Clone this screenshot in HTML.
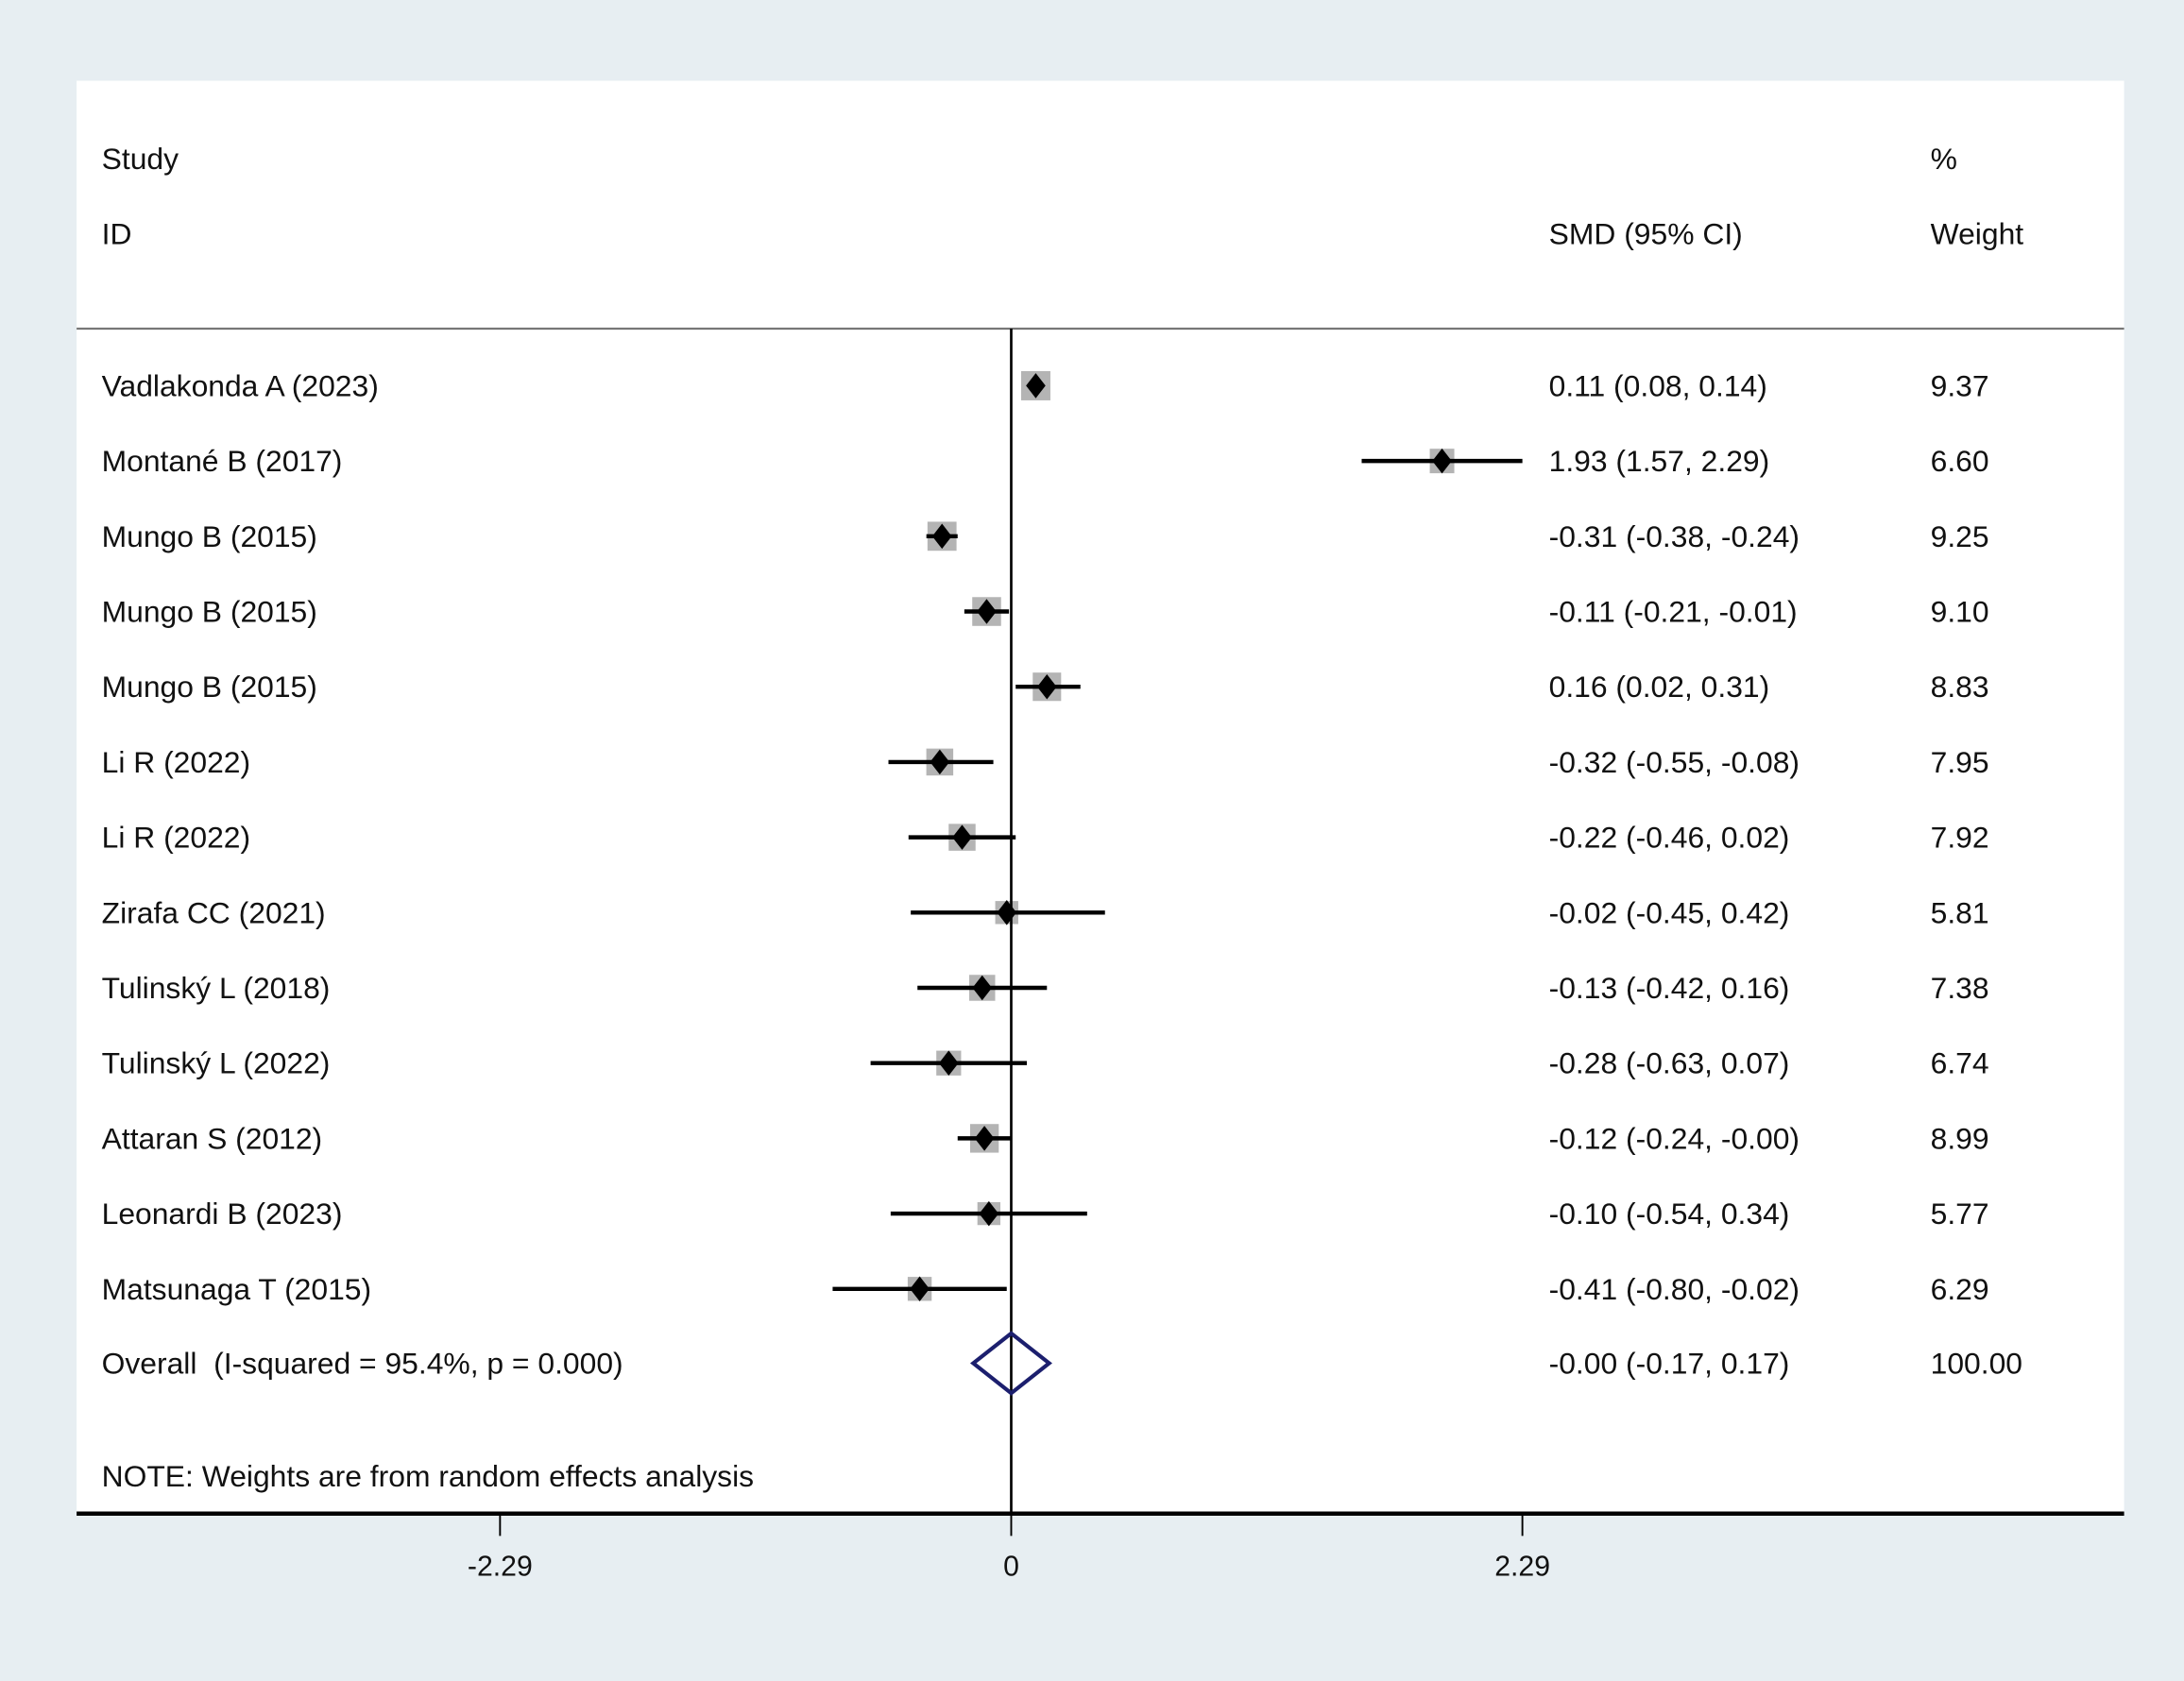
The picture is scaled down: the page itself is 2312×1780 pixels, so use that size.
<!DOCTYPE html>
<html><head><meta charset="utf-8"><style>
html,body{margin:0;padding:0;background:#e8eff3;}
svg{display:block;}
text{font-family:"Liberation Sans",Arial,sans-serif;fill:#111;}
</style></head><body>
<svg id="chart" width="2312" height="1780" viewBox="0 0 1568 1207.2" preserveAspectRatio="none" xmlns="http://www.w3.org/2000/svg">
<rect x="0" y="0" width="1568" height="1208" fill="#e7eef2"/>
<rect x="55" y="58" width="1470" height="1029" fill="#ffffff"/>
<text x="73" y="114" font-size="21.6" dominant-baseline="central">Study</text>
<text x="73" y="168" font-size="21.6" dominant-baseline="central">ID</text>
<text x="1112" y="168" font-size="21.6" dominant-baseline="central">SMD (95% CI)</text>
<text x="1386" y="114" font-size="21.6" dominant-baseline="central">%</text>
<text x="1386" y="168" font-size="21.6" dominant-baseline="central">Weight</text>
<line x1="55" y1="236" x2="1525" y2="236" stroke="#777" stroke-width="1.5"/>
<g id="marks"></g>
<text x="73" y="1060" font-size="21.6" dominant-baseline="central">NOTE: Weights are from random effects analysis</text>
</svg>
<script>
const studies = ["Vadlakonda A (2023)","Montané B (2017)","Mungo B (2015)","Mungo B (2015)","Mungo B (2015)","Li R (2022)","Li R (2022)","Zirafa CC (2021)","Tulinský L (2018)","Tulinský L (2022)","Attaran S (2012)","Leonardi B (2023)","Matsunaga T (2015)"];
const smd = [0.11,1.93,-0.31,-0.11,0.16,-0.32,-0.22,-0.02,-0.13,-0.28,-0.12,-0.10,-0.41];
const lower = [0.08,1.57,-0.38,-0.21,0.02,-0.55,-0.46,-0.45,-0.42,-0.63,-0.24,-0.54,-0.80];
const upper = [0.14,2.29,-0.24,-0.01,0.31,-0.08,0.02,0.42,0.16,0.07,-0.00,0.34,-0.02];
const ciLabels = ["0.11 (0.08, 0.14)","1.93 (1.57, 2.29)","-0.31 (-0.38, -0.24)","-0.11 (-0.21, -0.01)","0.16 (0.02, 0.31)","-0.32 (-0.55, -0.08)","-0.22 (-0.46, 0.02)","-0.02 (-0.45, 0.42)","-0.13 (-0.42, 0.16)","-0.28 (-0.63, 0.07)","-0.12 (-0.24, -0.00)","-0.10 (-0.54, 0.34)","-0.41 (-0.80, -0.02)"];
const weights = [9.37,6.60,9.25,9.10,8.83,7.95,7.92,5.81,7.38,6.74,8.99,5.77,6.29];
const overallEst = -0.00, overallLo = -0.17, overallHi = 0.17;
const overallLabel = "Overall  (I-squared = 95.4%, p = 0.000)";
const overallCI = "-0.00 (-0.17, 0.17)";
const overallWeight = "100.00";
const ticks = [-2.29, 0, 2.29];
const tickLabels = ["-2.29","0","2.29"];

const NS = "http://www.w3.org/2000/svg";
const g = document.getElementById('marks');
const xScale = v => 726 + v * (367 / 2.29);
const yRow = i => 277 + i * 54.05;
const FS = 21.6;
function mk(tag, attrs, parent){ const e=document.createElementNS(NS,tag); for(const k in attrs) e.setAttribute(k,attrs[k]); (parent||g).appendChild(e); return e; }
function txt(x,y,s,size,anchor){ const t=mk('text',{x:x,y:y,'font-size':size,'dominant-baseline':'central','text-anchor':anchor||'start'}); t.textContent=s; return t; }

studies.forEach((s,i)=>{
  const y=yRow(i);
  let t=txt(73,y,s,FS);
  
  
  const side = 21*Math.sqrt(weights[i]/9.37);
  let b=mk('rect',{x:xScale(smd[i])-side/2,y:y-side/2,width:side,height:side,fill:'#b4b4b4'});
  
  
  let l=mk('line',{x1:xScale(lower[i]),y1:y,x2:xScale(upper[i]),y2:y,stroke:'#000','stroke-width':3});
  
  
  const cx=xScale(smd[i]);
  let d=mk('polygon',{points:`${cx},${y-9} ${cx+7},${y} ${cx},${y+9} ${cx-7},${y}`,fill:'#000'});
  
  
  let c=txt(1112,y,ciLabels[i],FS);
  
  
  let w=txt(1386,y,weights[i].toFixed(2),FS);
  
  
});

const oy = 979;
let ot=txt(73,oy,overallLabel,FS);


ot.setAttribute('xml:space','preserve');
ot.style.whiteSpace='pre';
let oc=txt(1112,oy,overallCI,FS);


let ow=txt(1386,oy,overallWeight,FS);



let zl=mk('line',{x1:xScale(0),y1:236,x2:xScale(0),y2:1087,stroke:'#000','stroke-width':1.8});



const ocx=xScale(overallEst);
let od=mk('polygon',{points:`${ocx},${oy-21.5} ${xScale(overallHi)},${oy} ${ocx},${oy+21.5} ${xScale(overallLo)},${oy}`,fill:'none',stroke:'#1c1f6e','stroke-width':2.8});



let ax=mk('line',{x1:55,y1:1087,x2:1525,y2:1087,stroke:'#000','stroke-width':3});


ticks.forEach((t,i)=>{
  let tk=mk('line',{x1:xScale(t),y1:1087,x2:xScale(t),y2:1103,stroke:'#000','stroke-width':1.3});
  
  
  let tl=txt(xScale(t),1125,tickLabels[i],20.5,'middle');
  
  
});
</script>
</body></html>
